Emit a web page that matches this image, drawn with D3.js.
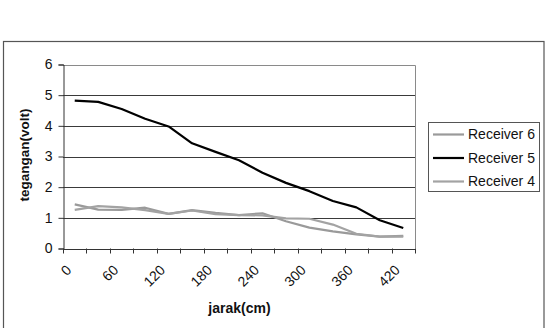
<!DOCTYPE html>
<html>
<head>
<meta charset="utf-8">
<script src="https://cdn.jsdelivr.net/npm/d3@7"></script>
<style>
  body { margin: 0; background: #fff; }
  svg { display: block; font-family: "Liberation Sans", Arial, sans-serif; }
</style>
</head>
<body>
<svg id="chart" width="546" height="328"></svg>
<script>
// jarak (cm) categories, 30 cm step
var categories = [0, 30, 60, 90, 120, 150, 180, 210, 240, 270, 300, 330, 360, 390, 420];
var receiver6 = [1.44, 1.27, 1.26, 1.33, 1.13, 1.25, 1.16, 1.09, 1.15, 0.89, 0.68, 0.56, 0.46, 0.39, 0.41];
var receiver5 = [4.82, 4.78, 4.55, 4.23, 3.98, 3.43, 3.15, 2.88, 2.47, 2.14, 1.87, 1.55, 1.34, 0.92, 0.67];
var receiver4 = [1.26, 1.38, 1.34, 1.25, 1.13, 1.24, 1.12, 1.09, 1.08, 0.98, 0.97, 0.78, 0.48, 0.39, 0.39];
var yTicks = [0, 1, 2, 3, 4, 5, 6];

var series = [
    {name: "Receiver 6", values: receiver6, color: "#9a9a9a"},
    {name: "Receiver 5", values: receiver5, color: "#000000"},
    {name: "Receiver 4", values: receiver4, color: "#a3a3a3"}
];

var svg = d3.select("#chart");
var plotLeft = 63, plotRight = 415, plotTop = 64.5, plotBottom = 248.5;

var x = d3.scaleBand().domain(categories).range([plotLeft, plotRight]).padding(0);
var y = d3.scaleLinear().domain([0, 6]).range([plotBottom, plotTop]);

// outer chart frame
svg.append("rect")
    .attr("x", 3.5).attr("y", 41.5)
    .attr("width", 540.5).attr("height", 400)
    .attr("fill", "none").attr("stroke", "#555").attr("stroke-width", 1.2);

// gridlines
svg.selectAll(".grid")
    .data(yTicks.filter(function (d) { return d > 0 && d < 6; }))
    .enter().append("line")
    .attr("x1", plotLeft).attr("x2", plotRight)
    .attr("y1", function (d) { return Math.round(y(d)) + 0.5; })
    .attr("y2", function (d) { return Math.round(y(d)) + 0.5; })
    .attr("stroke", "#3a3a3a").attr("stroke-width", 1);

// plot area border (top + right)
svg.append("path")
    .attr("d", "M" + plotLeft + "," + (Math.round(plotTop) + 0.5) + "H" + (plotRight + 0.5) + "V" + plotBottom)
    .attr("fill", "none").attr("stroke", "#8a8a8a").attr("stroke-width", 1);

// y axis
var yAxis = svg.append("g")
    .attr("transform", "translate(" + (plotLeft + 0.5) + ",0)")
    .call(d3.axisLeft(y).tickValues(yTicks).tickSize(5).tickPadding(6).tickFormat(d3.format("d")));
yAxis.selectAll("path, line").attr("stroke", "#333");
yAxis.selectAll("text").attr("font-size", 14).attr("fill", "#111")
    .attr("font-family", "Liberation Sans, Arial, sans-serif");

// x axis line and ticks between categories
svg.append("line")
    .attr("x1", plotLeft).attr("x2", plotRight + 0.5)
    .attr("y1", Math.round(plotBottom) + 0.5).attr("y2", Math.round(plotBottom) + 0.5)
    .attr("stroke", "#333");
var tickPos = categories.map(function (c) { return x(c); }).concat([x.range()[1]]);
svg.selectAll(".xtick")
    .data(tickPos)
    .enter().append("line")
    .attr("x1", function (d) { return Math.round(d) + 0.5; })
    .attr("x2", function (d) { return Math.round(d) + 0.5; })
    .attr("y1", plotBottom).attr("y2", plotBottom + 5)
    .attr("stroke", "#333");

// x labels, every other category, rotated
svg.selectAll(".xlabel")
    .data(categories.filter(function (c, i) { return i % 2 === 0; }))
    .enter().append("text")
    .attr("transform", function (d) {
        return "translate(" + (x(d) + x.bandwidth() / 2 - 6) + "," + (plotBottom + 19) + ") rotate(-45)";
    })
    .attr("text-anchor", "end")
    .attr("dy", "0.35em")
    .attr("font-size", 14)
    .attr("fill", "#111")
    .text(function (d) { return d; });

// lines
var line = d3.line()
    .x(function (d, i) { return x(categories[i]) + x.bandwidth() / 2; })
    .y(function (d) { return y(d); });

svg.selectAll(".series")
    .data(series)
    .enter().append("path")
    .attr("d", function (s) { return line(s.values); })
    .attr("fill", "none")
    .attr("stroke", function (s) { return s.color; })
    .attr("stroke-width", 2.2)
    .attr("stroke-linejoin", "round");

// axis titles
svg.append("text")
    .attr("x", 239.5).attr("y", 313)
    .attr("text-anchor", "middle")
    .attr("font-size", 14).attr("font-weight", "bold").attr("fill", "#111")
    .text("jarak(cm)");

svg.append("text")
    .attr("transform", "translate(29,155) rotate(-90)")
    .attr("text-anchor", "middle")
    .attr("font-size", 13.5).attr("font-weight", "bold").attr("fill", "#111")
    .text("tegangan(volt)");

// legend
var legend = svg.append("g");
legend.append("rect")
    .attr("x", 428.5).attr("y", 122.5)
    .attr("width", 111).attr("height", 69)
    .attr("fill", "#fff").attr("stroke", "#555").attr("stroke-width", 1);

var item = legend.selectAll(".item")
    .data(series)
    .enter().append("g")
    .attr("transform", function (d, i) { return "translate(0," + (134.5 + i * 23.5) + ")"; });
item.append("line")
    .attr("x1", 433).attr("x2", 464)
    .attr("stroke", function (d) { return d.color; })
    .attr("stroke-width", 2.2);
item.append("text")
    .attr("x", 468).attr("dy", "0.35em")
    .attr("font-size", 14).attr("fill", "#111")
    .text(function (d) { return d.name; });
</script>
</body>
</html>
